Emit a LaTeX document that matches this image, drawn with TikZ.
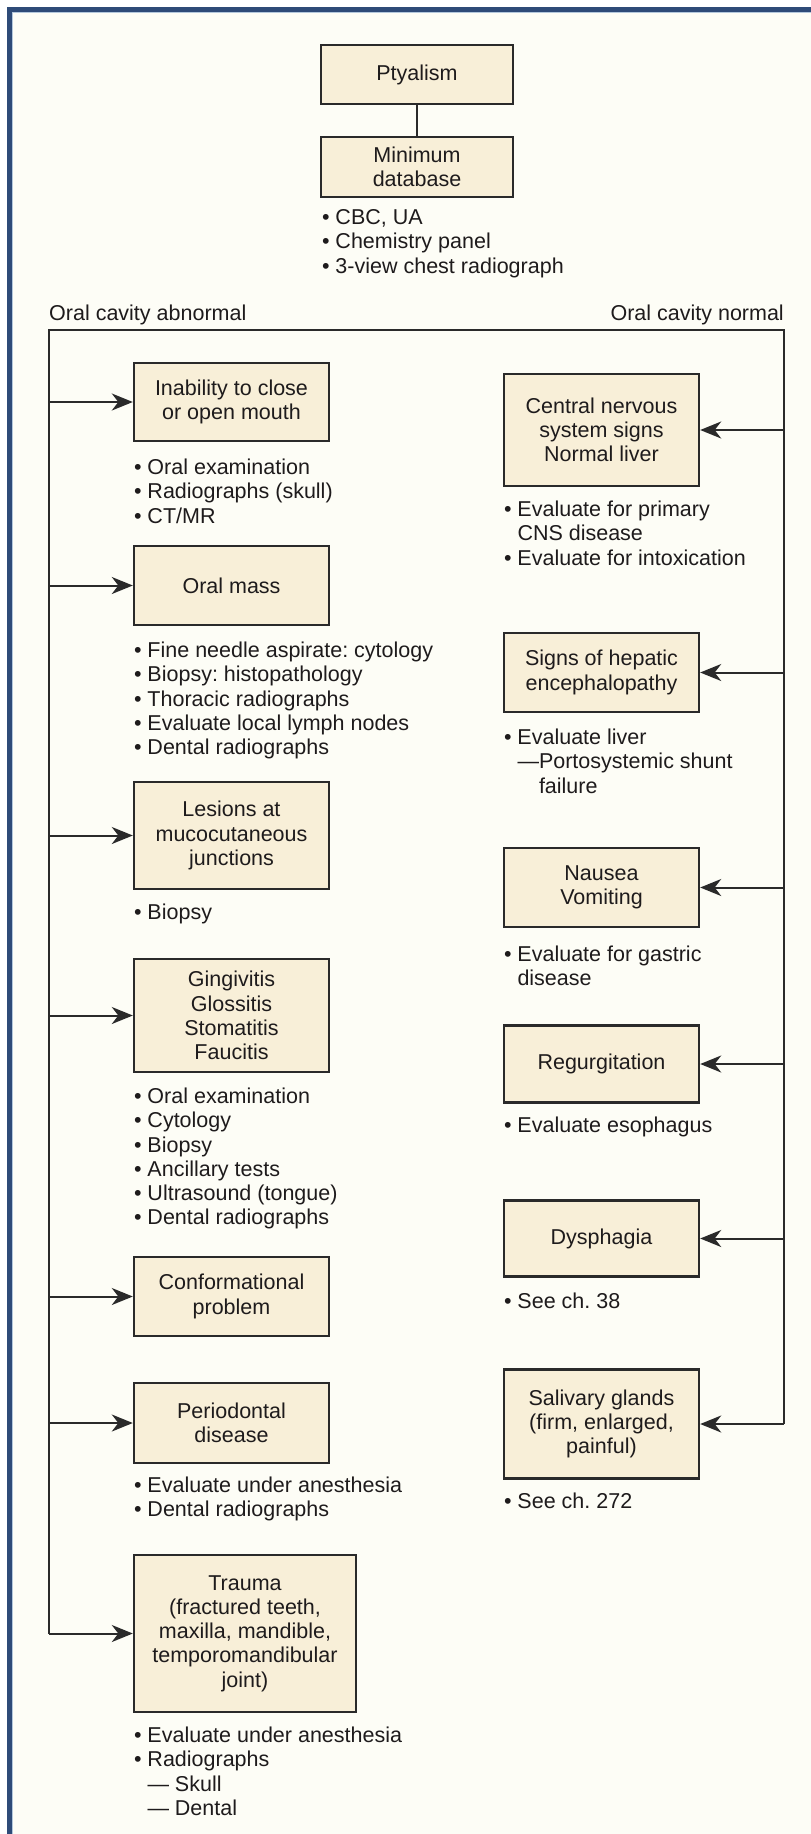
\documentclass[tikz,border=0pt]{standalone}
\usepackage{fontspec}
\setmainfont{Liberation Sans}
\usetikzlibrary{arrows.meta,calc}

\definecolor{ink}{HTML}{1E1B1C}
\definecolor{boxline}{HTML}{2A2A2A}
\definecolor{boxfill}{HTML}{F8EFD8}
\definecolor{paper}{HTML}{FDFDF6}
\definecolor{frameblue}{HTML}{2E4B78}
\definecolor{framelight}{HTML}{B4C8DC}

\newcommand\diagfont{\fontsize{21.5}{24.3}\selectfont\frenchspacing}
\newcommand\bul{\textbullet\ }
\newcommand\ind{\hphantom{\textbullet\ }}

\begin{document}
\begin{tikzpicture}[x=1pt,y=-1pt,
  box/.style={draw=boxline, line width=2.4pt, fill=boxfill, text=ink,
    minimum width=195pt, inner sep=0pt, align=center, font=\diagfont},
  list/.style={anchor=north west, inner sep=0pt, align=left, text=ink, font=\diagfont},
  label/.style={inner sep=0pt, text=ink, font=\diagfont},
  link/.style={draw=boxline, line width=2pt},
  arr/.style={link, -{Stealth[length=21pt,width=17pt,inset=6.5pt]}}]

% page and frame
\useasboundingbox (0,0) rectangle (811,1834);
\fill[white] (0,0) rectangle (811,1834);
\fill[paper] (13.3,13.3) rectangle (811,1834);
\fill[frameblue] (7,7) rectangle (811,11.7);
\fill[frameblue] (7,7) rectangle (11.7,1834);
\fill[framelight] (11.7,11.7) rectangle (811,13.3);
\fill[framelight] (11.7,11.7) rectangle (13.3,1834);

% header
\node[box, minimum width=192pt, minimum height=59pt] (pty) at (417,74.5) {Ptyalism};
\node[box, minimum width=192pt, minimum height=60pt] (mdb) at (417,167) {Minimum\\database};
\draw[link] (pty) -- (mdb);
\node[list] (mdbl) at ([xshift=2pt,yshift=-11pt]mdb.south west)
  {\bul CBC, UA\\ \bul Chemistry panel\\ \bul 3-view chest radiograph};

\node[label, anchor=base west] (abn) at (49,320.5) {Oral cavity abnormal};
\node[label, anchor=base east] (nor) at (784,320.5) {Oral cavity normal};

% left column: oral cavity abnormal
\node[box, minimum height=78pt] (inab) at (231.5,402) {Inability to close\\or open mouth};
\node[box, minimum height=79pt] (mass) at (231.5,585.5) {Oral mass};
\node[box, minimum height=107pt] (lesi) at (231.5,835.5) {Lesions at\\mucocutaneous\\junctions};
\node[box, minimum height=113pt] (ging) at (231.5,1015.5) {Gingivitis\\Glossitis\\Stomatitis\\Faucitis};
\node[box, minimum height=79pt] (conf) at (231.5,1296.5) {Conformational\\problem};
\node[box, minimum height=80pt] (peri) at (231.5,1423) {Periodontal\\disease};
\node[box, minimum width=222pt, minimum height=157pt] (trau) at (245,1633.5)
  {Trauma\\(fractured teeth,\\maxilla, mandible,\\temporomandibular\\joint)};

\node[list] (inabl) at ([xshift=1pt,yshift=-16.5pt]inab.south west)
  {\bul Oral examination\\ \bul Radiographs (skull)\\ \bul CT/MR};
\node[list] (massl) at ([xshift=1pt,yshift=-15.5pt]mass.south west)
  {\bul Fine needle aspirate: cytology\\ \bul Biopsy: histopathology\\ \bul Thoracic radiographs\\
   \bul Evaluate local lymph nodes\\ \bul Dental radiographs};
\node[list] (lesil) at ([xshift=1pt,yshift=-13.5pt]lesi.south west) {\bul Biopsy};
\node[list] (gingl) at ([xshift=1pt,yshift=-14.5pt]ging.south west)
  {\bul Oral examination\\ \bul Cytology\\ \bul Biopsy\\ \bul Ancillary tests\\
   \bul Ultrasound (tongue)\\ \bul Dental radiographs};
\node[list] (peril) at ([xshift=1pt,yshift=-12.5pt]peri.south west)
  {\bul Evaluate under anesthesia\\ \bul Dental radiographs};
\node[list] (traul) at ([xshift=1pt,yshift=-13.5pt]trau.south west)
  {\bul Evaluate under anesthesia\\ \bul Radiographs\\ \ind\textemdash\ Skull\\ \ind\textemdash\ Dental};

% right column: oral cavity normal
\node[box, minimum height=112pt] (cns) at (601.5,430) {Central nervous\\system signs\\Normal liver};
\node[box, minimum height=79pt] (hep) at (601.5,672.5) {Signs of hepatic\\encephalopathy};
\node[box, minimum height=79pt] (naus) at (601.5,887.5) {Nausea\\Vomiting};
\node[box, minimum height=77pt] (regu) at (601.5,1064) {Regurgitation};
\node[box, minimum height=76pt] (dysp) at (601.5,1238.5) {Dysphagia};
\node[box, minimum height=109pt] (sali) at (601.5,1424) {Salivary glands\\(firm, enlarged,\\painful)};

\node[list] (cnsl) at ([xshift=1pt,yshift=-13.5pt]cns.south west)
  {\bul Evaluate for primary\\ \ind CNS disease\\ \bul Evaluate for intoxication};
\node[list] (hepl) at ([xshift=1pt,yshift=-15.5pt]hep.south west)
  {\bul Evaluate liver\\ \ind\textemdash Portosystemic shunt\\ \ind\hphantom{\textemdash}failure};
\node[list] (nausl) at ([xshift=1pt,yshift=-17.5pt]naus.south west)
  {\bul Evaluate for gastric\\ \ind disease};
\node[list] (regul) at ([xshift=1pt,yshift=-13.5pt]regu.south west) {\bul Evaluate esophagus};
\node[list] (dyspl) at ([xshift=1pt,yshift=-15.5pt]dysp.south west) {\bul See ch. 38};
\node[list] (salil) at ([xshift=1pt,yshift=-13.5pt]sali.south west) {\bul See ch. 272};

% branching frame
\coordinate (tl) at (49,330);
\coordinate (tr) at (784,330);
\draw[link] (tl |- trau.west) -- (tl) -- (tr) -- (tr |- sali.east);

\foreach \b in {inab,mass,lesi,ging,conf,peri,trau}
  \draw[arr] (tl |- \b.west) -- (\b.west);
\foreach \b in {cns,hep,naus,regu,dysp,sali}
  \draw[arr] (tr |- \b.east) -- (\b.east);
\end{tikzpicture}
\end{document}
